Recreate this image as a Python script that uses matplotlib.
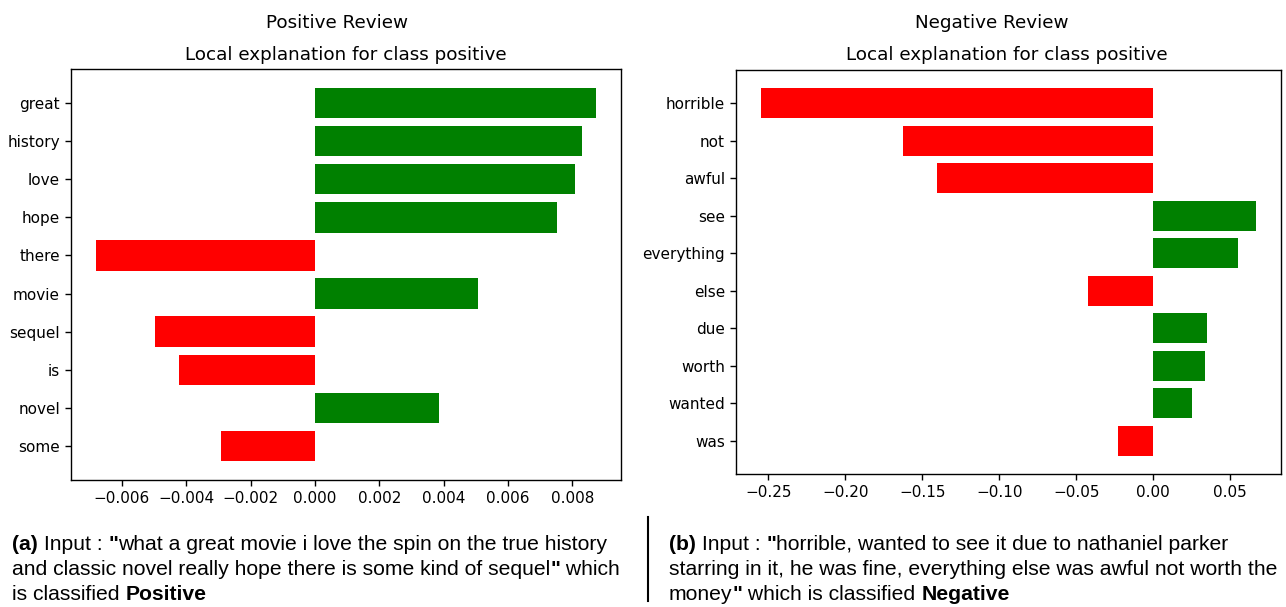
import matplotlib
matplotlib.use("Agg")
import matplotlib.pyplot as plt
from matplotlib.lines import Line2D

# ---- data ----
pos_words = ["great", "history", "love", "hope", "there", "movie", "sequel", "is", "novel", "some"]
pos_vals = [0.00873, 0.00829, 0.00809, 0.00753, -0.00680, 0.00505, -0.00497, -0.00421, 0.00385, -0.00293]

neg_words = ["horrible", "not", "awful", "see", "everything", "else", "due", "worth", "wanted", "was"]
neg_vals = [-0.2548, -0.1627, -0.1401, 0.0669, 0.0549, -0.0421, 0.0351, 0.0335, 0.0249, -0.0229]

panel_titles = ["Positive Review", "Negative Review"]
axes_title = "Local explanation for class positive"

cap_a = [
    [("(a)", True), (" Input : ", False), ('"', True), ("what a great movie i love the spin on the true history", False)],
    [("and classic novel really hope there is some kind of sequel", False), ('"', True), (" which", False)],
    [("is classified ", False), ("Positive", True)],
]
cap_b = [
    [("(b)", True), (" Input : ", False), ('"', True), ("horrible, wanted to see it due to nathaniel parker", False)],
    [("starring in it, he was fine, everything else was awful not worth the", False)],
    [("money", False), ('"', True), (" which is classified ", False), ("Negative", True)],
]

W, H = 1286, 607
fig = plt.figure(figsize=(W / 100, H / 100), dpi=100)
fig.patch.set_facecolor("white")


def px_rect(x0, y0, x1, y1):
    return [x0 / W, 1 - y1 / H, (x1 - x0) / W, (y1 - y0) / H]


ax1 = fig.add_axes(px_rect(71, 69, 621, 480))
ax2 = fig.add_axes(px_rect(736, 70, 1281, 474))


def draw(ax, words, vals):
    n = len(words)
    ypos = list(range(n))[::-1]
    colors = ["green" if v > 0 else "red" for v in vals]
    ax.barh(ypos, vals, height=0.8, color=colors, edgecolor="none")
    ax.set_yticks(ypos)
    ax.set_yticklabels(words)
    ax.tick_params(labelsize=11, length=4.5, width=1)
    for s in ax.spines.values():
        s.set_linewidth(1.0)


draw(ax1, pos_words, pos_vals)
draw(ax2, neg_words, neg_vals)
ax1.set_xticks([-0.006, -0.004, -0.002, 0.0, 0.002, 0.004, 0.006, 0.008])
ax2.set_xticks([-0.25, -0.20, -0.15, -0.10, -0.05, 0.0, 0.05])

fig.text(337 / W, 1 - 23 / H, panel_titles[0], fontsize=13.2, ha="center", va="center")
fig.text(992 / W, 1 - 23 / H, panel_titles[1], fontsize=13.2, ha="center", va="center")
fig.text(346 / W, 1 - 55 / H, axes_title, fontsize=13.2, ha="center", va="center")
fig.text(1007 / W, 1 - 55 / H, axes_title, fontsize=13.2, ha="center", va="center")

# ---- captions ----
FS = 15.2
FAM = ["Liberation Sans", "DejaVu Sans"]
fig.canvas.draw()
renderer = fig.canvas.get_renderer()


def seg_width(s, bold):
    w = "bold" if bold else "normal"
    t1 = fig.text(0, 0, "|" + s + "|", fontsize=FS, family=FAM, fontweight=w)
    t2 = fig.text(0, 0, "||", fontsize=FS, family=FAM, fontweight=w)
    w1 = t1.get_window_extent(renderer).width
    w2 = t2.get_window_extent(renderer).width
    t1.remove()
    t2.remove()
    return w1 - w2


def caption(lines, x0, baselines):
    for segs, yb in zip(lines, baselines):
        x = x0
        for s, bold in segs:
            fig.text(x / W, 1 - yb / H, s, fontsize=FS, family=FAM,
                     fontweight="bold" if bold else "normal",
                     ha="left", va="baseline", color="black")
            x += seg_width(s, bold)


baselines = [550, 575, 600]
caption(cap_a, 12, baselines)
caption(cap_b, 669, baselines)

fig.add_artist(Line2D([648 / W, 648 / W], [1 - 517 / H, 1 - 601 / H],
                      transform=fig.transFigure, color="black", lw=1.5))

fig.savefig("out.png", dpi=100, facecolor="white")
